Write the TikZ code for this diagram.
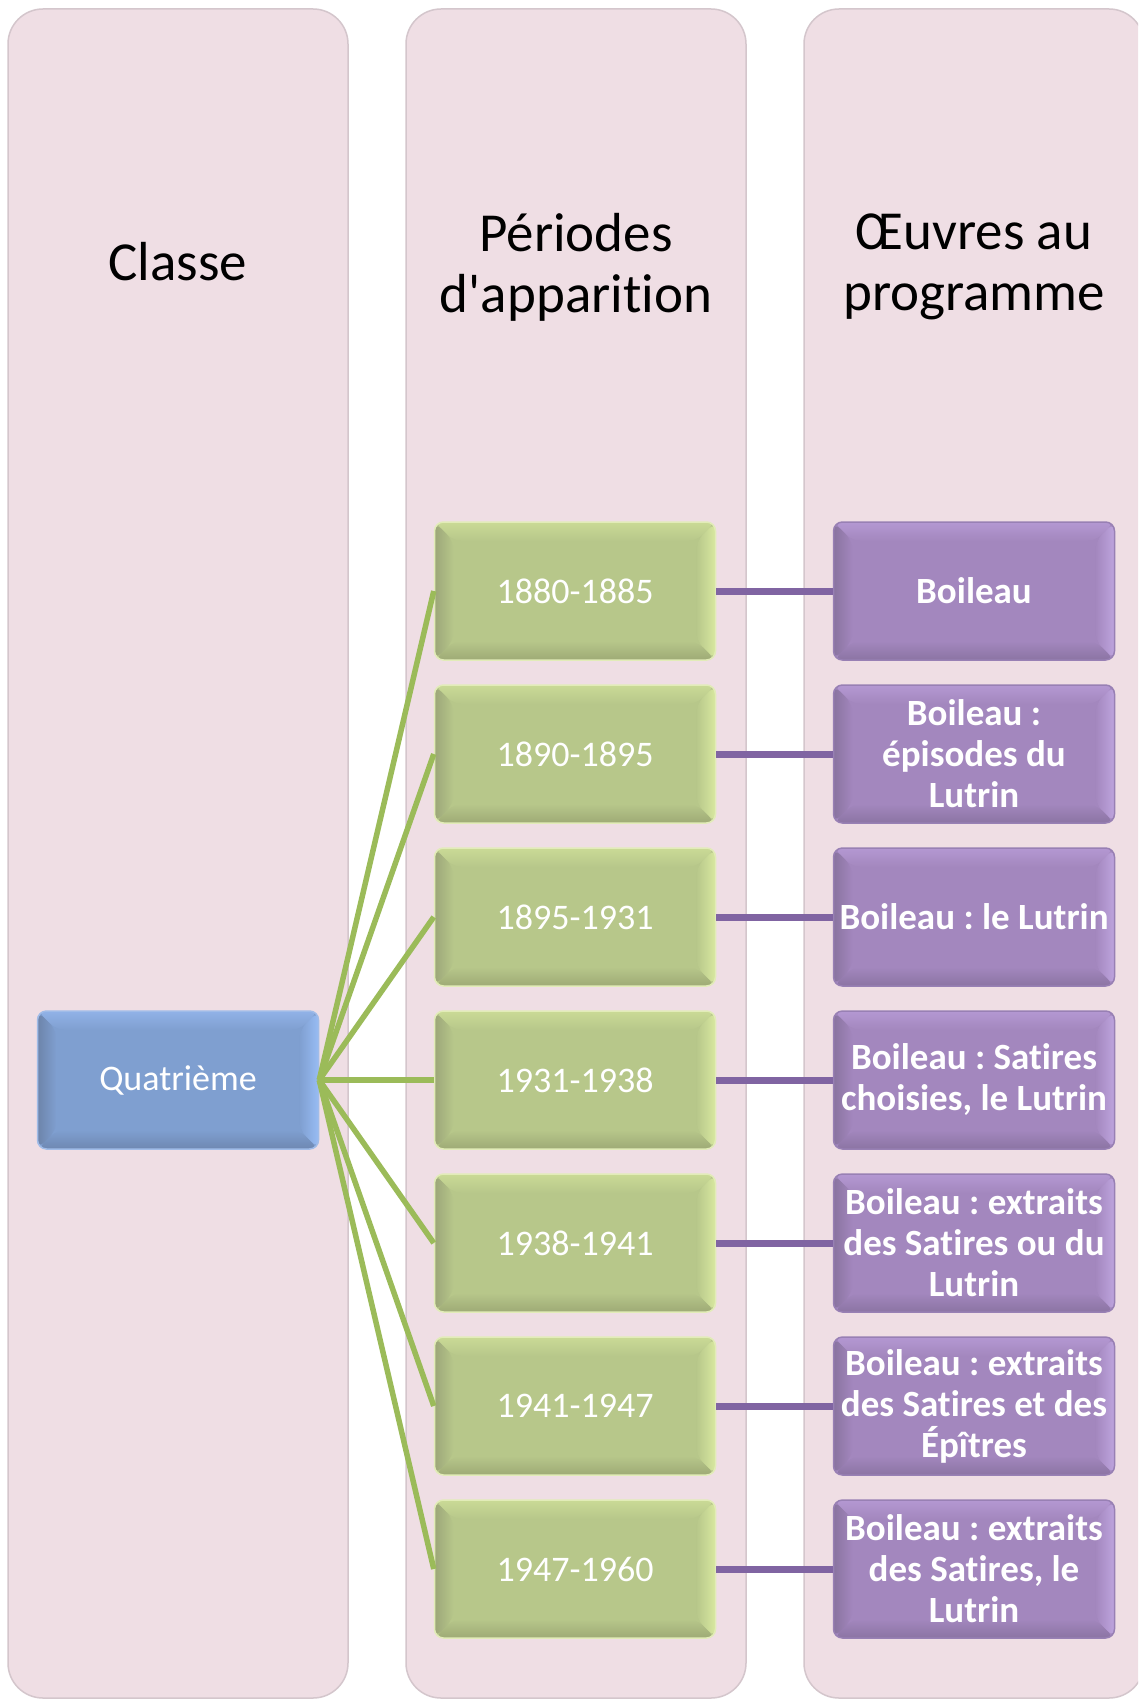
\documentclass[tikz,border=0pt]{standalone}
\usepackage{fontspec}
\setmainfont{Carlito}[Ligatures={TeXOff,NoCommon}]
\usetikzlibrary{calc}
\definecolor{colbg}{RGB}{239,222,228}
\definecolor{colline}{RGB}{212,198,204}
\definecolor{gmain}{RGB}{183,199,138}
\definecolor{gtop}{RGB}{202,218,150}
\definecolor{gright}{RGB}{216,232,160}
\definecolor{gbot}{RGB}{158,170,118}
\definecolor{gleft}{RGB}{156,166,121}
\definecolor{gedge}{RGB}{226,236,184}
\definecolor{pmain}{RGB}{163,135,190}
\definecolor{ptop}{RGB}{180,152,210}
\definecolor{pright}{RGB}{190,164,222}
\definecolor{pbot}{RGB}{139,116,163}
\definecolor{pleft}{RGB}{137,115,159}
\definecolor{pedge}{RGB}{152,128,180}
\definecolor{bmain}{RGB}{127,159,208}
\definecolor{btop}{RGB}{145,178,231}
\definecolor{bright}{RGB}{152,188,244}
\definecolor{bbot}{RGB}{110,136,178}
\definecolor{bleft}{RGB}{108,132,170}
\definecolor{bedge}{RGB}{160,188,232}
\definecolor{glink}{RGB}{155,187,89}
\definecolor{plink}{RGB}{128,100,162}
\def\bv{19pt}
\tikzset{
  bevel/.style n args={5}{
    fill=#1,
    path picture={
      \path (path picture bounding box.south west) coordinate (pSW)
            (path picture bounding box.north east) coordinate (pNE);
      \shade[top color=#2, bottom color=#1] (pSW|-pNE) -- (pNE) -- ($(pNE)+(-\bv,-\bv)$) -- ($(pSW|-pNE)+(\bv,-\bv)$) -- cycle;
      \shade[left color=#1, right color=#3] (pNE) -- (pNE|-pSW) -- ($(pNE|-pSW)+(-\bv,\bv)$) -- ($(pNE)+(-\bv,-\bv)$) -- cycle;
      \shade[top color=#1, bottom color=#4] (pNE|-pSW) -- (pSW) -- ($(pSW)+(\bv,\bv)$) -- ($(pNE|-pSW)+(-\bv,\bv)$) -- cycle;
      \shade[left color=#5, right color=#1] (pSW) -- (pSW|-pNE) -- ($(pSW|-pNE)+(\bv,-\bv)$) -- ($(pSW)+(\bv,\bv)$) -- cycle;
    }},
  boxbase/.style={rectangle, rounded corners=9, minimum width=281, minimum height=138,
    inner sep=0, text=white, align=center, line width=1.5,
    font=\fontsize{36}{41}\selectfont\frenchspacing},
  gbox/.style={boxbase, draw=gedge, bevel={gmain}{gtop}{gright}{gbot}{gleft}},
  pbox/.style={boxbase, draw=pedge, bevel={pmain}{ptop}{pright}{pbot}{pleft},
    font=\fontsize{37}{41}\selectfont\bfseries\frenchspacing},
  bbox/.style={boxbase, draw=bedge, bevel={bmain}{btop}{bright}{bbot}{bleft}},
  colbox/.style={fill=colbg, draw=colline, line width=1.5, rounded corners=35},
  header/.style={align=center, text=black, font=\fontsize{55}{61}\selectfont},
  glinkst/.style={draw=glink, line width=5.5},
  plinkst/.style={draw=plink, line width=7}
}
\begin{document}
\begin{tikzpicture}[x=1pt,y=-1pt]
\useasboundingbox (0,0) rectangle (1138,1704);
\clip (0,0) rectangle (1138,1704);
\fill[white] (0,0) rectangle (1138,1704);
% columns
\path[colbox] (8,9) rectangle (348,1698);
\path[colbox] (406,9) rectangle (746,1698);
\path[colbox] (804,9) rectangle (1144,1698);
% headers
\node[header] (h1) at (178,262) {Classe};
\node[header] (h2) at (576,267) {Périodes\\d'apparition};
\node[header] (h3) at (974,267) {Œuvres au\\programme};
% class
\node[bbox] (q) at (178,1080) {Quatrième};
% periods
\node[gbox] (p1) at (575,591) {1880-1885};
\node[gbox] (p2) at (575,754) {1890-1895};
\node[gbox] (p3) at (575,917) {1895-1931};
\node[gbox] (p4) at (575,1080) {1931-1938};
\node[gbox] (p5) at (575,1243) {1938-1941};
\node[gbox] (p6) at (575,1406) {1941-1947};
\node[gbox] (p7) at (575,1569) {1947-1960};
% works
\node[pbox] (o1) at (974,591) {Boileau};
\node[pbox] (o2) at (974,754) {Boileau :\\épisodes du\\Lutrin};
\node[pbox] (o3) at (974,917) {Boileau : le Lutrin};
\node[pbox] (o4) at (974,1080) {Boileau : Satires\\choisies, le Lutrin};
\node[pbox] (o5) at (974,1243) {Boileau : extraits\\des Satires ou du\\Lutrin};
\node[pbox] (o6) at (974,1406) {Boileau : extraits\\des Satires et des\\Épîtres};
\node[pbox] (o7) at (974,1569) {Boileau : extraits\\des Satires, le\\Lutrin};
% connectors
\foreach \i in {1,...,7}{
  \draw[glinkst] (q.east) -- (p\i.west);
  \draw[plinkst] (p\i.east) -- (o\i.west);
}
\end{tikzpicture}
\end{document}
